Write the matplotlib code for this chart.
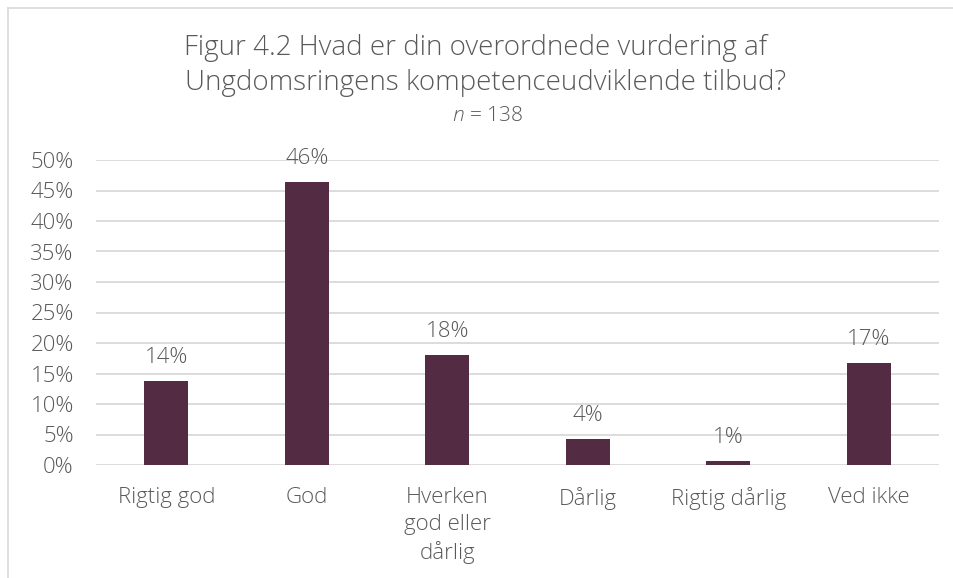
import matplotlib.pyplot as plt
from matplotlib.ticker import MultipleLocator, FuncFormatter
from matplotlib.lines import Line2D

categories = ["Rigtig god", "God", "Hverken\ngod eller\ndårlig", "Dårlig", "Rigtig dårlig", "Ved ikke"]
values = [13.8, 46.4, 18.1, 4.3, 0.7, 16.7]
labels = ["14%", "46%", "18%", "4%", "1%", "17%"]

plt.rcParams['font.family'] = ['Open Sans', 'DejaVu Sans']
plt.rcParams['font.weight'] = 'light'
plt.rcParams['mathtext.fontset'] = 'custom'
plt.rcParams['mathtext.it'] = 'Open Sans:italic:light'
plt.rcParams['mathtext.rm'] = 'Open Sans:light'
text_col = '#595959'
bar_col = '#532b42'
grid_col = '#d9d9d9'
fs = 16

W, H = 954, 578
fig = plt.figure(figsize=(W / 100, H / 100), dpi=100, facecolor='white')

# chart frame (only left and top edges visible in the crop)
fig.add_artist(Line2D([8 / W, 8 / W], [0, 1 - 8 / H], color=grid_col, lw=1.2, transform=fig.transFigure))
fig.add_artist(Line2D([8 / W, 1], [1 - 8 / H, 1 - 8 / H], color=grid_col, lw=1.2, transform=fig.transFigure))

ax = fig.add_axes([96 / W, (H - 465) / H, 843 / W, 305 / H])
x = range(len(categories))
ax.bar(x, values, width=0.31, color=bar_col, zorder=3)
ax.set_xlim(-0.5, len(categories) - 0.5)
ax.set_ylim(0, 50)
ax.yaxis.set_major_locator(MultipleLocator(5))
ax.yaxis.set_major_formatter(FuncFormatter(lambda v, p: f"{v:.0f}%"))
ax.grid(axis='y', color=grid_col, lw=1.3, zorder=0)
for s in ax.spines.values():
    s.set_visible(False)
ax.tick_params(length=0, labelsize=fs, labelcolor=text_col)
ax.tick_params(axis='y', pad=16)
ax.tick_params(axis='x', pad=16)
ax.set_xticks(list(x))
ax.set_xticklabels(categories, linespacing=1.35)

for i, (v, t) in enumerate(zip(values, labels)):
    ax.annotate(t, (i, v), xytext=(0, 13), textcoords='offset points', ha='center', va='baseline',
                fontsize=fs, color=text_col)

fig.text(476 / W, 1 - 55 / H, "Figur 4.2 Hvad er din overordnede vurdering af", ha='center', va='baseline',
         fontsize=20, color=text_col)
fig.text(486 / W, 1 - 90 / H, "Ungdomsringens kompetenceudviklende tilbud?", ha='center', va='baseline',
         fontsize=20, color=text_col)
fig.text(487 / W, 1 - 121 / H, "$\\mathit{n}$ = 138", ha='center', va='baseline',
         fontsize=15, color=text_col)

fig.savefig('out.png', dpi=100, facecolor='white')
